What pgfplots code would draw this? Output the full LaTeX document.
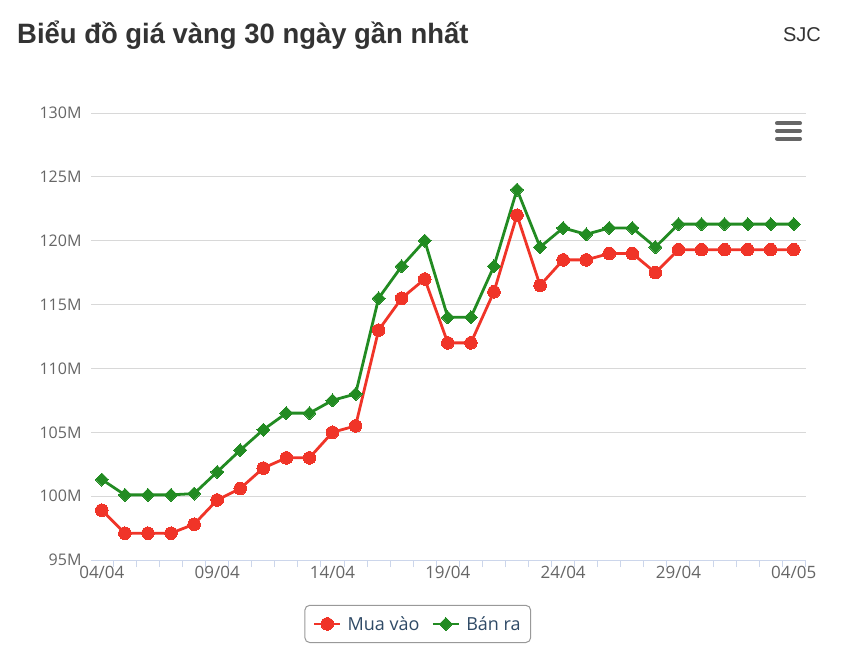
\documentclass[border=0pt]{standalone}
\usepackage{fontspec}
\setmainfont{Open Sans}
\newfontfamily\titlefont[FakeStretch=0.98]{Liberation Sans}
\newfontfamily\sjcfont{Liberation Sans}
\usepackage{pgfplots}
\pgfplotsset{compat=1.18}
\definecolor{muared}{RGB}{240,52,40}
\definecolor{bangreen}{RGB}{34,139,34}
\definecolor{gridgray}{RGB}{216,216,216}
\definecolor{axisblue}{RGB}{204,214,235}
\definecolor{ticktext}{RGB}{102,102,102}
\definecolor{legtext}{RGB}{47,74,102}
\definecolor{titletext}{RGB}{51,51,51}
\begin{document}
\begin{tikzpicture}
\path[use as bounding box, fill=white] (0,0) rectangle (842pt,654pt);
\node[anchor=base west, font=\titlefont\bfseries\fontsize{28}{32}\selectfont, text=titletext, inner sep=0pt] at (17pt,610pt) {Biểu đồ giá vàng 30 ngày gần nhất};
\node[anchor=base east, font=\sjcfont\fontsize{20}{24}\selectfont, text=titletext, inner sep=0pt] at (821pt,612pt) {SJC};
\foreach \yy in {530.7,523,515.3} {
  \draw[line width=4pt, line cap=round, color=ticktext] (777pt,\yy pt) -- (800pt,\yy pt);
}
\begin{axis}[
  at={(91pt,94pt)}, anchor=south west,
  scale only axis, width=715pt, height=447pt,
  xmin=-0.47, xmax=30.53, ymin=95, ymax=130,
  axis x line*=bottom, axis y line*=left,
  axis line style={-},
  x axis line style={draw=axisblue, line width=1pt},
  y axis line style={draw=none},
  ytick={95,100,...,130},
  yticklabels={95M,100M,105M,110M,115M,120M,125M,130M},
  xtick={0,5,10,15,20,25,30},
  xticklabels={04/04,09/04,14/04,19/04,24/04,29/04,04/05},
  minor xtick={-0.5,0.5,1.5,2.5,3.5,4.5,5.5,6.5,7.5,8.5,9.5,10.5,11.5,12.5,13.5,14.5,15.5,16.5,17.5,18.5,19.5,20.5,21.5,22.5,23.5,24.5,25.5,26.5,27.5,28.5,29.5,30.5},
  major tick length=0pt, minor tick length=7pt, tick align=outside,
  minor x tick style={draw=axisblue, line width=1pt},
  ytick style={draw=none},
  ymajorgrids, grid style={draw=gridgray, line width=1pt},
  tick label style={font=\fontsize{16}{18}\selectfont, text=ticktext},
  xticklabel style={yshift=-3pt, font=\fontsize{17}{19}\selectfont},
  yticklabel style={xshift=-6pt},
  legend style={at={(0.457,-0.143)}, anchor=center, draw=gray!80, line width=1pt, rounded corners=5pt,
    font=\fontsize{18}{21}\selectfont, text=legtext, inner xsep=8pt, inner ysep=9pt,
    /tikz/every even column/.append style={column sep=10pt}},
  legend columns=2,
  legend image code/.code={\draw[mark repeat=2,mark phase=2] plot coordinates {(0pt,0pt) (13pt,0pt) (26pt,0pt)}; \path (30pt,0pt);},
]
\addplot[color=muared, line width=2.8pt, mark=*, mark size=6.3pt, mark options={solid, fill=muared, draw=muared, line width=0pt}] coordinates {
(0,98.9) (1,97.1) (2,97.1) (3,97.1) (4,97.8) (5,99.7) (6,100.6) (7,102.2) (8,103.0) (9,103.0)
(10,105.0) (11,105.5) (12,113.0) (13,115.5) (14,117.0) (15,112.0) (16,112.0) (17,116.0) (18,122.0) (19,116.5)
(20,118.5) (21,118.5) (22,119.0) (23,119.0) (24,117.5) (25,119.3) (26,119.3) (27,119.3) (28,119.3) (29,119.3) (30,119.3)
};
\addlegendentry{Mua vào}
\addplot[color=bangreen, line width=2.8pt, mark=square*, mark size=4.6pt, mark options={solid, rotate=45, fill=bangreen, draw=bangreen, line width=0pt}] coordinates {
(0,101.3) (1,100.1) (2,100.1) (3,100.1) (4,100.2) (5,101.9) (6,103.6) (7,105.2) (8,106.5) (9,106.5)
(10,107.5) (11,108.0) (12,115.5) (13,118.0) (14,120.0) (15,114.0) (16,114.0) (17,118.0) (18,124.0) (19,119.5)
(20,121.0) (21,120.5) (22,121.0) (23,121.0) (24,119.5) (25,121.3) (26,121.3) (27,121.3) (28,121.3) (29,121.3) (30,121.3)
};
\addlegendentry{Bán ra}
\end{axis}
\end{tikzpicture}
\end{document}
